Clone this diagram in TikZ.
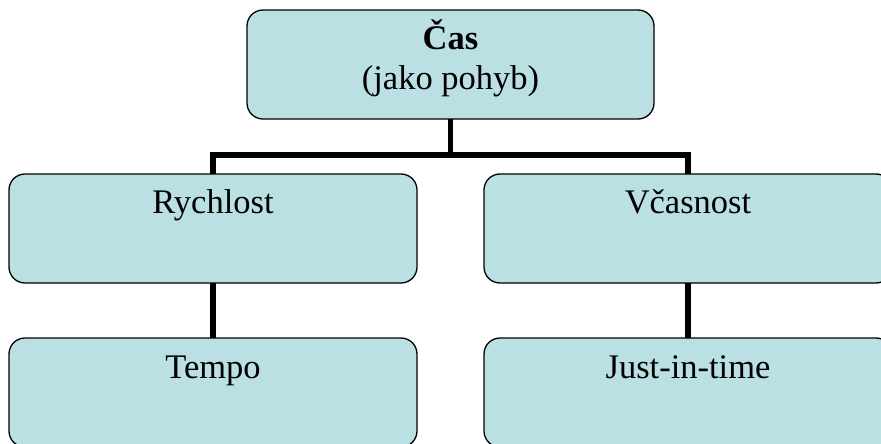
\documentclass[tikz,border=0pt]{standalone}
\usepackage{fontspec}
\setmainfont{Liberation Serif}
\definecolor{boxfill}{RGB}{186,224,227}
\begin{document}
\begin{tikzpicture}[x=1pt,y=-1pt,
  box/.style={draw=black, line width=1.3pt, fill=boxfill, rounded corners=16pt,
    minimum width=#1, minimum height=109pt, inner sep=0pt, outer sep=0pt},
  conn/.style={draw=black, line width=5.5pt},
  lbl/.style={anchor=base, inner sep=0pt, font=\fontsize{34.5}{40}\selectfont}]
\clip (0,0) rectangle (881,444);
\node[box=407pt] (top) at (450.5,64.5) {};
\node[box=408pt] (lm) at (213,228.5) {};
\node[box=408pt] (rm) at (688,228.5) {};
\node[box=408pt] (lb) at (213,392.5) {};
\node[box=408pt] (rb) at (688,392.5) {};
\coordinate (bus) at (450.5,155);
\draw[conn] (top.south) -- (bus) -| (lm.north);
\draw[conn] (bus) -| (rm.north);
\draw[conn] (lm.south) -- (lb.north);
\draw[conn] (rm.south) -- (rb.north);
\node[lbl] (t1) at (450.5,50) {\textbf{Čas}};
\node[lbl] (t2) at (450.5,89.5) {(jako pohyb)};
\node[lbl] (t3) at (213,213) {Rychlost};
\node[lbl] (t4) at (688,213) {Včasnost};
\node[lbl] (t5) at (213,378) {Tempo};
\node[lbl] (t6) at (688,378) {Just-in-time};
\end{tikzpicture}
\end{document}
